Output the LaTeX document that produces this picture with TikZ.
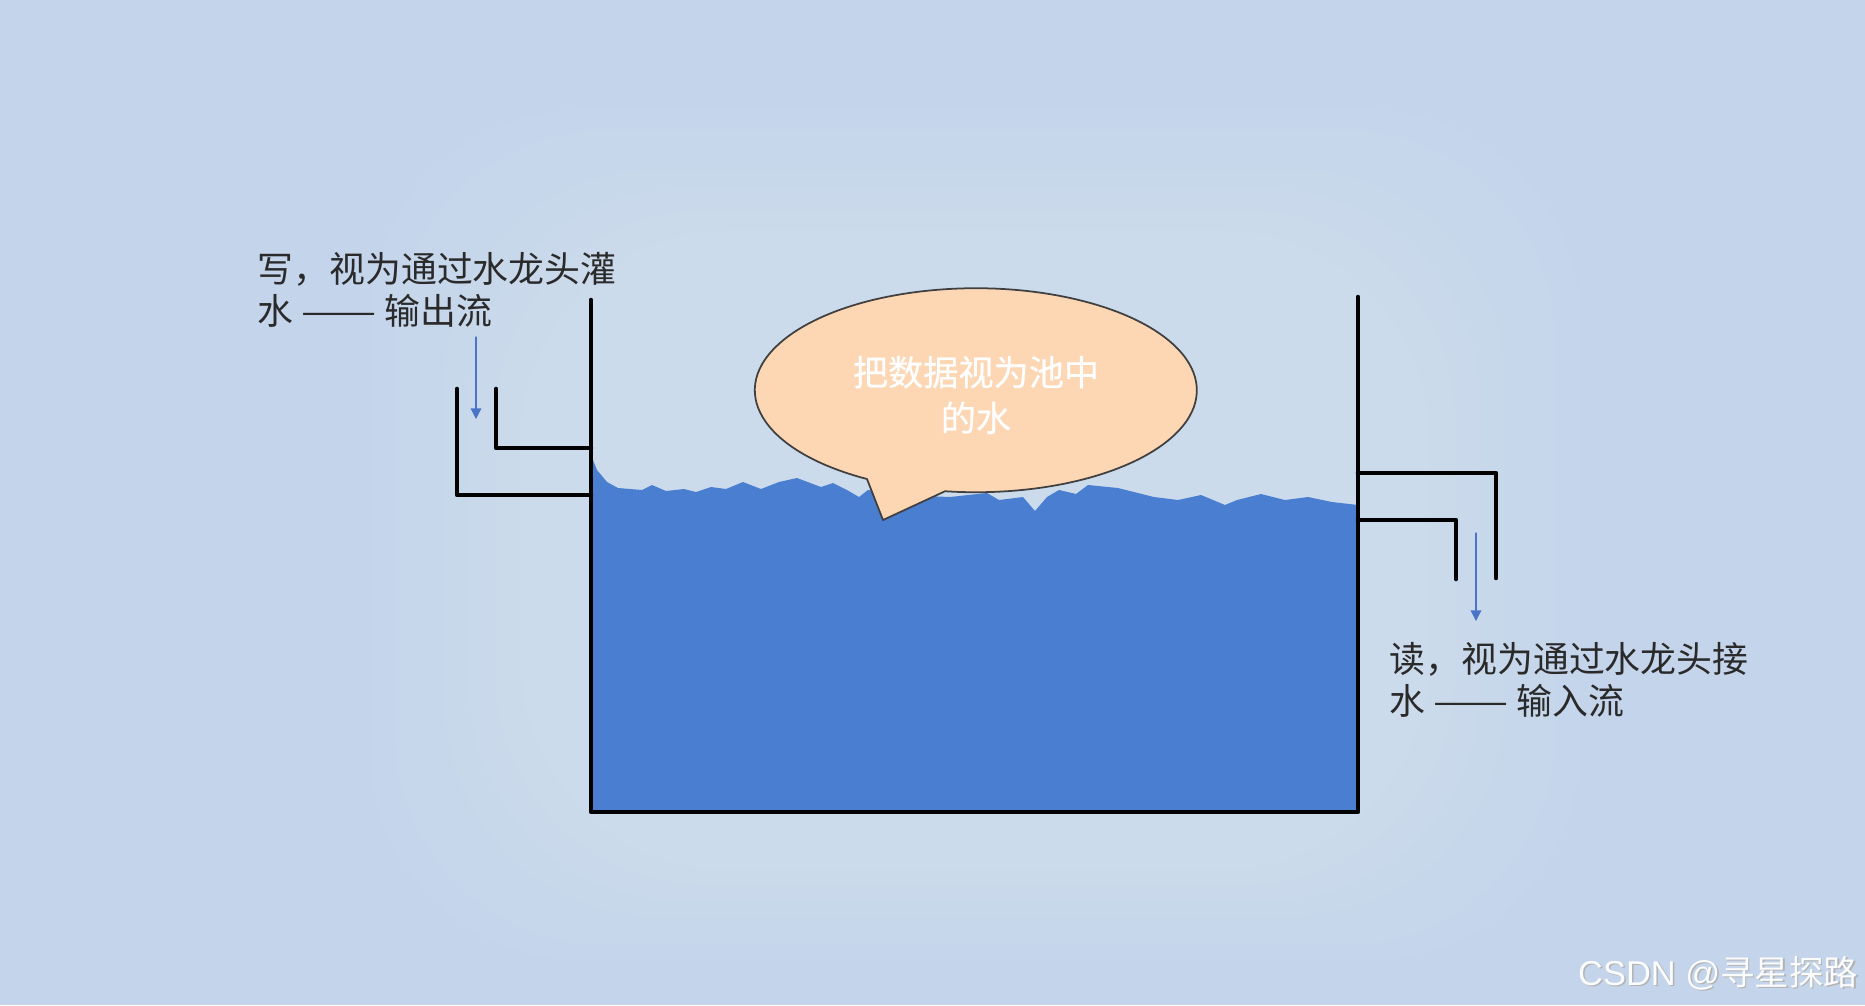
\documentclass[tikz,border=0pt]{standalone}
\usepackage{fontspec}
\setmainfont{Liberation Sans}
\newfontfamily\cjk{Noto Sans CJK SC}
\newfontfamily\cjkmid[FakeBold=0.6]{Noto Sans CJK SC}
\usetikzlibrary{arrows.meta}
\definecolor{bgblue}{HTML}{C4D4EB}
\definecolor{waterblue}{HTML}{4A7ED0}
\definecolor{peach}{HTML}{FDD6B4}
\definecolor{arrowblue}{HTML}{4A74C8}
\definecolor{textgrey}{HTML}{2A2A2A}
\newcommand{\longdash}{\scalebox{1.25}[1]{——}}
\tikzset{
  wall/.style={line width=1.3pt,black},
  flow/.style={arrowblue,line width=0.35pt,-{Triangle[width=3pt,length=3pt]}},
  caption/.style={font=\cjk\fontsize{10.2}{11.9}\selectfont,text=textgrey,align=left,inner sep=0pt},
  bubble/.style={fill=peach,draw=black!75,line width=0.5pt}
}
\begin{document}
\begin{tikzpicture}[x=0.01cm,y=-0.01cm,line cap=round,line join=round]
  \fill[bgblue] (0,0) rectangle (1865,1005);
  \useasboundingbox (0,0) rectangle (1865,1005);
  % soft light halo round the tank
  \foreach \g in {0,...,6}
    \fill[white,opacity=0.03,rounded corners=60] (520-\g*25,230-\g*20) rectangle (1430+\g*25,870+\g*15);
  % water
  \fill[waterblue] (591,455) -- (597,470) -- (607,482) -- (618,488) -- (642,490) -- (652,485)
    -- (666,491) -- (684,489) -- (696,492) -- (711,487) -- (726,489) -- (743,482) -- (761,489)
    -- (779,482) -- (797,478) -- (821,487) -- (833,483) -- (847,490) -- (859,497) -- (868,490)
    -- (900,495) -- (950,497) -- (987,493) -- (999,500) -- (1023,497) -- (1035,511) -- (1047,497)
    -- (1059,490) -- (1076,494) -- (1088,485) -- (1118,488) -- (1130,491) -- (1154,497)
    -- (1178,500) -- (1201,495) -- (1225,505) -- (1237,500) -- (1261,494) -- (1285,500)
    -- (1308,497) -- (1332,502) -- (1358,505) -- (1358,812) -- (591,812) -- cycle;
  % tank and pipes
  \draw[wall] (591,300) -- (591,812) -- (1358,812) -- (1358,297);
  \draw[wall] (457,389) -- (457,495) -- (591,495);
  \draw[wall] (496,389) -- (496,448) -- (591,448);
  \draw[wall] (1358,473) -- (1496,473) -- (1496,578);
  \draw[wall] (1358,520) -- (1456,520) -- (1456,579);
  % flow arrows
  \coordinate (inTop) at (476,337);
  \coordinate (inEnd) at (476,419);
  \draw[flow] (inTop) -- (inEnd);
  \coordinate (outTop) at (1476,533);
  \coordinate (outEnd) at (1476,621);
  \draw[flow] (outTop) -- (outEnd);
  % labels
  \node[caption,anchor=west] (writeText) at (257,290) {写，视为通过水龙头灌\\水 \longdash{} 输出流};
  \node[caption,anchor=west] (readText) at (1389,680) {读，视为通过水龙头接\\水 \longdash{} 输入流};
  % speech bubble
  \draw[bubble] (883,520) -- (867,479) arc[start angle=119.5,end angle=458,x radius=221,y radius=102] -- cycle;
  \node[font=\cjkmid\fontsize{10}{13}\selectfont,text=white,align=center] (bubbleText) at (976,395) {把数据视为池中\\的水};
  % watermark
  \node[anchor=east,inner sep=0pt,text=black!30,font=\fontsize{9.8}{12}\selectfont] (markShadow) at (1860.5,974.5) {CSDN @{\cjk 寻星探路}};
  \node[anchor=east,inner sep=0pt,text=white!94!bgblue,font=\fontsize{9.8}{12}\selectfont] (mark) at (1859,973) {CSDN @{\cjk 寻星探路}};
\end{tikzpicture}
\end{document}
